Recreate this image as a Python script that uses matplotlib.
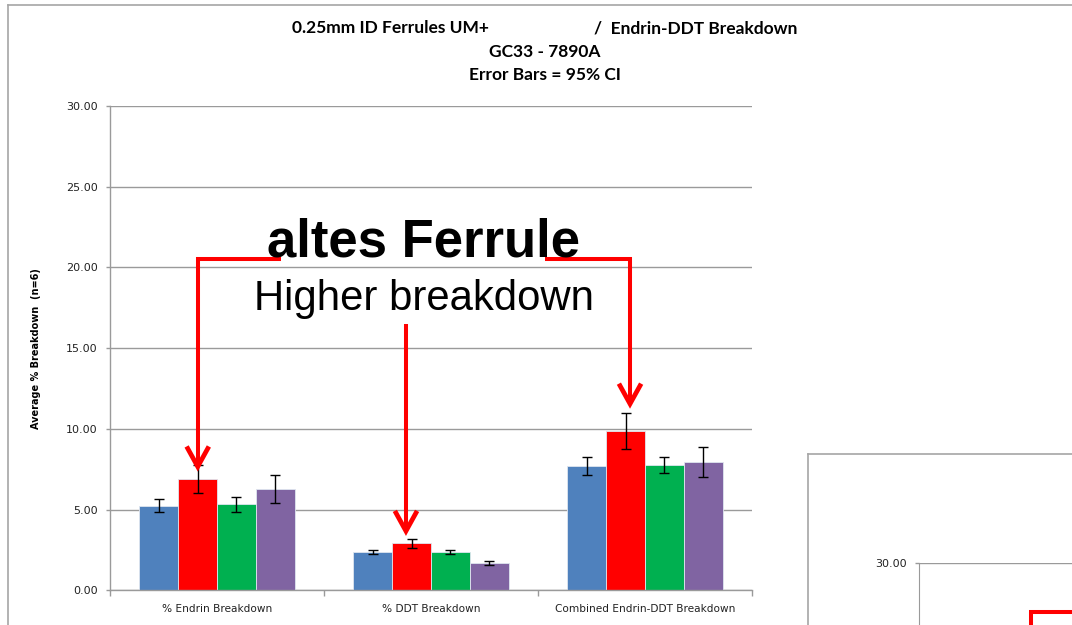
import numpy as np
import matplotlib
matplotlib.use("Agg")
import matplotlib.pyplot as plt
from matplotlib.lines import Line2D

# --- data ---
categories = ["% Endrin Breakdown", "% DDT Breakdown", "Combined Endrin-DDT Breakdown"]
series_colors = ["#4F81BD", "#FF0000", "#00B050", "#8064A2"]
means = [
    [5.25, 2.38, 7.70],
    [6.89, 2.92, 9.87],
    [5.32, 2.38, 7.76],
    [6.27, 1.68, 7.95],
]
ci95 = [
    [0.43, 0.11, 0.53],
    [0.86, 0.27, 1.09],
    [0.45, 0.11, 0.50],
    [0.85, 0.14, 0.95],
]
yticks = [0, 5, 10, 15, 20, 25, 30]

W, H = 1072, 625
fig = plt.figure(figsize=(W / 100, H / 100), dpi=100)


def fx(px):
    return px / W


def fy(py):
    return 1 - py / H


def fig_line(xs, ys, **kw):
    fig.add_artist(Line2D([fx(x) for x in xs], [fy(y) for y in ys],
                          transform=fig.transFigure, **kw))


grid_c = "#9a9a9a"

# slide frames (kept inside the canvas)
fig_line([7.5, 7.5], [H, 5], color="#a6a6a6", lw=1.2)
fig_line([7.5, W], [5, 5], color="#a6a6a6", lw=1.2)
fig_line([808, 808], [H, 454], color="#a6a6a6", lw=1.2)
fig_line([808, W], [454, 454], color="#a6a6a6", lw=1.2)

# main chart
ax = fig.add_axes([fx(110), fy(590.3), fx(752) - fx(110), fy(106) - fy(590.3)])
n = len(means)
bw = 1 / (n + 1.5)
x = np.arange(len(categories))
for i in range(n):
    pos = x + (i - (n - 1) / 2) * bw
    ax.bar(pos, means[i], bw, color=series_colors[i], edgecolor="#dfe6f0",
           linewidth=0.6, zorder=2)
    ax.errorbar(pos, means[i], yerr=ci95[i], fmt="none", ecolor="black",
                elinewidth=1.0, capsize=3.4, capthick=1.0, zorder=3)

ax.set_xlim(-0.5, len(categories) - 0.5)
ax.set_ylim(0, 30)
ax.set_yticks(yticks)
ax.set_yticklabels([f"{v:.2f}" for v in yticks])
ax.yaxis.grid(True, color=grid_c, lw=1.0)
ax.set_axisbelow(True)
for s in ["top", "right"]:
    ax.spines[s].set_visible(False)
for s in ["left", "bottom"]:
    ax.spines[s].set_color(grid_c)
    ax.spines[s].set_linewidth(1.0)
ax.tick_params(axis="y", length=3, width=1.0, color=grid_c, pad=6,
               labelsize=8, labelcolor="#222222")
ax.set_xticks(x)
ax.set_xticklabels(categories)
ax.set_xticks(np.arange(len(categories) + 1) - 0.5, minor=True)
ax.tick_params(axis="x", which="major", length=0, pad=10, labelsize=7.6,
               labelcolor="#222222")
ax.tick_params(axis="x", which="minor", length=4, width=1.0, color=grid_c)
ax.set_ylabel("Average % Breakdown  (n=6)", fontsize=7, fontweight="bold",
              labelpad=18)

# title lines
tfont = dict(family=["Lato", "DejaVu Sans"], fontweight="bold", fontsize=12.5)
fig.text(fx(292), fy(28), "0.25mm ID Ferrules UM+", ha="left", va="center", **tfont)
fig.text(fx(797), fy(28), "/  Endrin-DDT Breakdown", ha="right", va="center", **tfont)
fig.text(fx(545), fy(52), "GC33 - 7890A", ha="center", va="center", **tfont)
fig.text(fx(545), fy(75), "Error Bars = 95% CI", ha="center", va="center", **tfont)

# callout arrows
red = "#FF0000"
alw = 2.9
hx, hy = 0.052, 1.25


def down_arrow(xs, ys):
    ax.plot(xs, ys, color=red, lw=alw, solid_capstyle="butt",
            solid_joinstyle="miter", clip_on=False, zorder=5)
    tx, ty = xs[-1], ys[-1]
    ax.plot([tx - hx, tx, tx + hx], [ty + hy, ty, ty + hy], color=red, lw=3.4,
            solid_joinstyle="miter", solid_capstyle="butt", clip_on=False, zorder=5)


down_arrow([0.30, -0.09, -0.09], [20.55, 20.55, 7.66])
down_arrow([0.883, 0.883], [16.5, 3.67])
down_arrow([1.535, 1.93, 1.93], [20.55, 20.55, 11.55])

tx = (423.5 - 110) / 214 - 0.5
ax.text(tx, 20.67, "altes Ferrule", ha="center", va="baseline",
        family="Liberation Sans", fontweight="bold", fontsize=38, zorder=6)
ax.text(tx, 17.37, "Higher breakdown", ha="center", va="baseline",
        family="Liberation Sans", fontsize=30.2, zorder=6)

# second chart, only its top corner shows
ax2 = fig.add_axes([fx(919), fy(563 + 484.3), 642 / W, 484.3 / H])
ax2.set_ylim(0, 30)
ax2.set_yticks(yticks[-1:])
ax2.set_yticklabels([f"{v:.2f}" for v in yticks[-1:]])
ax2.yaxis.grid(True, color=grid_c, lw=1.0)
ax2.set_xticks([])
for s in ["top", "right", "bottom"]:
    ax2.spines[s].set_visible(False)
ax2.spines["left"].set_color(grid_c)
ax2.tick_params(axis="y", length=3, width=1.0, color=grid_c, pad=6,
                labelsize=8, labelcolor="#222222")
fig_line([1030.5, 1030.5], [H, 612], color=red, lw=alw, solid_capstyle="butt")
fig_line([1029, W], [612, 612], color=red, lw=alw, solid_capstyle="butt")

fig.savefig("out.png", dpi=100)
